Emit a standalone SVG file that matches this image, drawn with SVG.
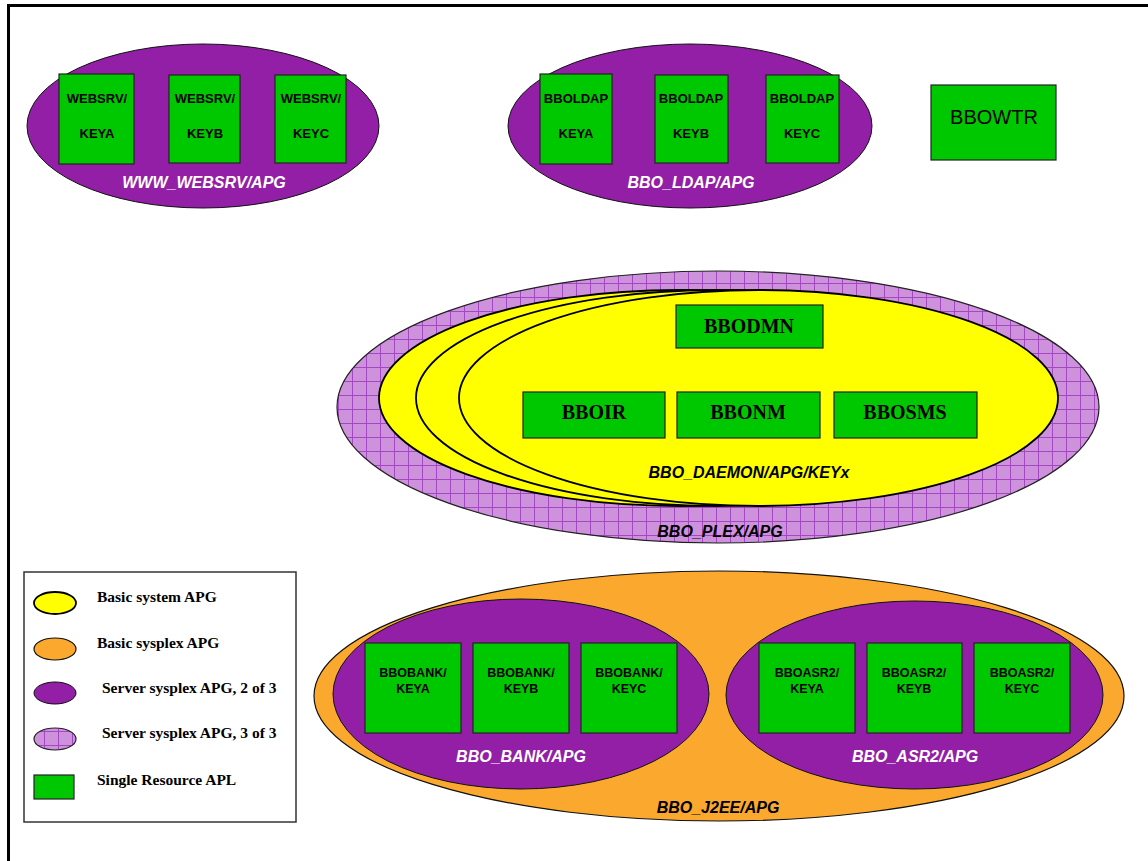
<svg xmlns="http://www.w3.org/2000/svg" width="1148" height="861" viewBox="0 0 1148 861">
  <defs>
    <!-- lavender cross-hatch used for the 3-of-3 server sysplex groups -->
    <pattern id="grid" width="14" height="14" patternUnits="userSpaceOnUse" x="2" y="3">
      <rect width="14" height="14" fill="#CE92DC"/>
      <path d="M0 0.5H14M0.5 0V14" stroke="#A348C2" stroke-width="1" fill="none"/>
    </pattern>
    <style>
      .frame { fill: none; stroke: #000; stroke-width: 3; }
      .srv { fill: #921FA6; stroke: #111; stroke-width: 1; }
      .plex { fill: url(#grid); stroke: #222; stroke-width: 1.2; }
      .sys { fill: #FFFF00; stroke: #000; stroke-width: 1.8; }
      .j2ee { fill: #FBA92E; stroke: #111; stroke-width: 1.2; }
      .res { fill: #00C800; stroke: #222; stroke-width: 1.2; }
      .k { font-family: "Liberation Sans", Arial, sans-serif; font-weight: bold; font-size: 13px; fill: #000; text-anchor: middle; }
      .k2 { font-family: "Liberation Sans", Arial, sans-serif; font-weight: bold; font-size: 12.5px; fill: #000; text-anchor: middle; }
      .t { font-family: "Liberation Serif", "Times New Roman", serif; font-weight: bold; font-size: 20px; fill: #000; text-anchor: middle; }
      .lblw { font-family: "Liberation Sans", Arial, sans-serif; font-weight: bold; font-style: italic; font-size: 16px; fill: #fff; text-anchor: middle; }
      .lblb { font-family: "Liberation Sans", Arial, sans-serif; font-weight: bold; font-style: italic; font-size: 16px; fill: #000; text-anchor: middle; }
      .leg { font-family: "Liberation Serif", "Times New Roman", serif; font-weight: bold; font-size: 15.5px; fill: #000; }
    </style>
  </defs>

  <rect width="1148" height="861" fill="#fff"/>
  <path class="frame" d="M8.5 861V5.5H1148"/>

  <!-- WWW_WEBSRV server group -->
  <g id="www_websrv_apg">
    <ellipse class="srv" cx="203" cy="126" rx="176" ry="82"/>
    <text class="lblw" x="204" y="188">WWW_WEBSRV/APG</text>
  </g>
  <g id="websrv_keya">
    <rect class="res" x="59" y="74" width="75" height="90"/>
    <text class="k" x="97" y="103">WEBSRV/</text>
    <text class="k" x="97" y="138">KEYA</text>
  </g>
  <g id="websrv_keyb">
    <rect class="res" x="169" y="75" width="71" height="88"/>
    <text class="k" x="205" y="103">WEBSRV/</text>
    <text class="k" x="205" y="138">KEYB</text>
  </g>
  <g id="websrv_keyc">
    <rect class="res" x="275" y="75" width="71" height="88"/>
    <text class="k" x="311" y="103">WEBSRV/</text>
    <text class="k" x="311" y="138">KEYC</text>
  </g>

  <!-- BBO_LDAP server group -->
  <g id="bbo_ldap_apg">
    <ellipse class="srv" cx="690" cy="126" rx="182" ry="82"/>
    <text class="lblw" x="691" y="188">BBO_LDAP/APG</text>
  </g>
  <g id="bboldap_keya">
    <rect class="res" x="540" y="74" width="72" height="90"/>
    <text class="k" x="576" y="103">BBOLDAP</text>
    <text class="k" x="576" y="138">KEYA</text>
  </g>
  <g id="bboldap_keyb">
    <rect class="res" x="655" y="75" width="73" height="88"/>
    <text class="k" x="691" y="103">BBOLDAP</text>
    <text class="k" x="691" y="138">KEYB</text>
  </g>
  <g id="bboldap_keyc">
    <rect class="res" x="766" y="75" width="73" height="88"/>
    <text class="k" x="802" y="103">BBOLDAP</text>
    <text class="k" x="802" y="138">KEYC</text>
  </g>

  <!-- standalone resource -->
  <g id="bbowtr">
    <rect class="res" x="931" y="85" width="125" height="75"/>
    <text x="994" y="124" font-family="Liberation Sans, Arial, sans-serif" font-size="20" text-anchor="middle" fill="#000">BBOWTR</text>
  </g>

  <!-- BBO_PLEX server sysplex group with the daemon system groups -->
  <g id="bbo_plex_apg">
    <ellipse class="plex" cx="718" cy="407" rx="381" ry="136"/>
    <text class="lblb" x="720" y="537">BBO_PLEX/APG</text>
  </g>
  <g id="bbo_daemon_apg_keyx">
    <ellipse class="sys" cx="679" cy="398" rx="300" ry="108"/>
    <ellipse class="sys" cx="716" cy="398" rx="300" ry="108"/>
    <ellipse class="sys" cx="758.5" cy="398" rx="299.5" ry="108"/>
    <text class="lblb" x="749" y="478" font-size="17.5">BBO_DAEMON/APG/KEYx</text>
  </g>
  <g id="bbodmn">
    <rect class="res" x="676" y="305" width="147" height="43"/>
    <text class="t" x="749" y="333">BBODMN</text>
  </g>
  <g id="bboir">
    <rect class="res" x="523" y="392" width="142" height="46"/>
    <text class="t" x="594" y="419">BBOIR</text>
  </g>
  <g id="bbonm">
    <rect class="res" x="677" y="392" width="143" height="46"/>
    <text class="t" x="748" y="419">BBONM</text>
  </g>
  <g id="bbosms">
    <rect class="res" x="834" y="392" width="143" height="46"/>
    <text class="t" x="905" y="419">BBOSMS</text>
  </g>

  <!-- BBO_J2EE basic sysplex group -->
  <g id="bbo_j2ee_apg">
    <ellipse class="j2ee" cx="719" cy="696" rx="405" ry="125"/>
    <text class="lblb" x="718" y="813">BBO_J2EE/APG</text>
  </g>
  <g id="bbo_bank_apg">
    <ellipse class="srv" cx="521" cy="694" rx="188" ry="95"/>
    <text class="lblw" x="521" y="762">BBO_BANK/APG</text>
  </g>
  <g id="bbobank_keya">
    <rect class="res" x="365" y="643" width="96" height="90"/>
    <text class="k2" x="413" y="677">BBOBANK/</text>
    <text class="k2" x="413" y="693">KEYA</text>
  </g>
  <g id="bbobank_keyb">
    <rect class="res" x="473" y="643" width="96" height="90"/>
    <text class="k2" x="521" y="677">BBOBANK/</text>
    <text class="k2" x="521" y="693">KEYB</text>
  </g>
  <g id="bbobank_keyc">
    <rect class="res" x="581" y="643" width="96" height="90"/>
    <text class="k2" x="629" y="677">BBOBANK/</text>
    <text class="k2" x="629" y="693">KEYC</text>
  </g>
  <g id="bbo_asr2_apg">
    <ellipse class="srv" cx="914.5" cy="695" rx="188.5" ry="94"/>
    <text class="lblw" x="915" y="762">BBO_ASR2/APG</text>
  </g>
  <g id="bboasr2_keya">
    <rect class="res" x="759" y="643" width="96" height="90"/>
    <text class="k2" x="807" y="677">BBOASR2/</text>
    <text class="k2" x="807" y="693">KEYA</text>
  </g>
  <g id="bboasr2_keyb">
    <rect class="res" x="867" y="643" width="95" height="90"/>
    <text class="k2" x="914" y="677">BBOASR2/</text>
    <text class="k2" x="914" y="693">KEYB</text>
  </g>
  <g id="bboasr2_keyc">
    <rect class="res" x="974" y="643" width="96" height="90"/>
    <text class="k2" x="1022" y="677">BBOASR2/</text>
    <text class="k2" x="1022" y="693">KEYC</text>
  </g>

  <!-- no connectors in this view -->
  <g id="connectors"/>

  <!-- legend -->
  <g id="legend">
    <rect x="24" y="572" width="272" height="250" fill="#fff" stroke="#333" stroke-width="1.5"/>
    <ellipse class="sys" cx="55" cy="603" rx="21" ry="11" stroke-width="1"/>
    <text class="leg" x="97" y="602">Basic system APG</text>
    <ellipse class="j2ee" cx="55" cy="649" rx="21" ry="11" stroke-width="1"/>
    <text class="leg" x="97" y="648">Basic sysplex APG</text>
    <ellipse class="srv" cx="55" cy="693" rx="21" ry="11"/>
    <text class="leg" x="102" y="693">Server sysplex APG, 2 of 3</text>
    <ellipse class="plex" cx="55" cy="739" rx="21" ry="11" stroke-width="1"/>
    <text class="leg" x="102" y="738">Server sysplex APG, 3 of 3</text>
    <rect class="res" x="34" y="775" width="40" height="24" stroke-width="1"/>
    <text class="leg" x="97" y="785">Single Resource APL</text>
  </g>
</svg>
